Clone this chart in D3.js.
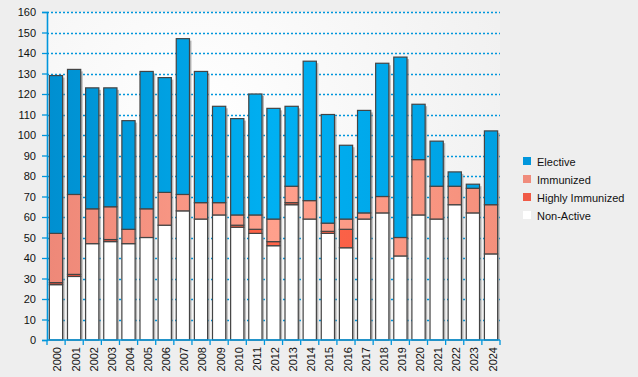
<!DOCTYPE html>
<html>
<head>
<meta charset="utf-8">
<script src="https://cdn.jsdelivr.net/npm/d3@7"></script>
<style>
  body { margin: 0; background: #eeeeee; }
  svg { display: block; font-family: "Liberation Sans", Arial, sans-serif; }
</style>
</head>
<body>
<div id="chart"></div>
<script>
// Data
const years = ["2000","2001","2002","2003","2004","2005","2006","2007","2008","2009","2010","2011","2012",
  "2013","2014","2015","2016","2017","2018","2019","2020","2021","2022","2023","2024"];
const nonActive = [27,31,47,48,47,50,56,63,59,61,55,52,46,66,59,52,45,59,62,41,61,59,66,62,42];
const highlyImmunized = [1,1,0,1,0,0,0,0,0,0,1,2,2,1,0,1,9,0,0,0,0,0,0,0,0];
const immunized = [24,39,17,16,7,14,16,8,8,6,5,7,11,8,9,4,5,3,8,9,27,16,9,12,24];
const elective = [77,61,59,58,53,67,56,76,64,47,47,59,54,39,68,53,36,50,65,88,27,22,7,2,36];
const seriesNames = ["Non-Active", "Highly Immunized", "Immunized", "Elective"];
const yTicks = d3.range(0, 161, 10);

const width = 638, height = 377;
const margin = { top: 12, right: 138, bottom: 37, left: 47 };
const plotW = width - margin.left - margin.right;
const plotH = height - margin.top - margin.bottom;

const svg = d3.select("#chart").append("svg")
  .attr("width", width)
  .attr("height", height);

const defs = svg.append("defs");

// background glow
const bg = defs.append("radialGradient").attr("id", "bgGrad")
  .attr("gradientUnits", "userSpaceOnUse")
  .attr("cx", 200).attr("cy", 120).attr("r", 380);
bg.append("stop").attr("offset", "0%").attr("stop-color", "#ffffff");
bg.append("stop").attr("offset", "100%").attr("stop-color", "#eeeeee");

svg.append("rect").attr("width", width).attr("height", height).attr("fill", "#eeeeee");
svg.append("rect")
  .attr("x", margin.left).attr("y", margin.top)
  .attr("width", plotW).attr("height", plotH)
  .attr("fill", "url(#bgGrad)");

// horizontal colour gradients for the fills
function hGrad(id, stops) {
  const g = defs.append("linearGradient").attr("id", id)
    .attr("gradientUnits", "userSpaceOnUse")
    .attr("x1", margin.left).attr("x2", margin.left + plotW)
    .attr("y1", 0).attr("y2", 0);
  stops.forEach(s => g.append("stop").attr("offset", s[0]).attr("stop-color", s[1]));
}
hGrad("gElective", [["0%", "#008fd0"], ["50%", "#00b0f2"], ["100%", "#00a0e2"]]);
hGrad("gImmunized", [["0%", "#ee8878"], ["50%", "#ffa08c"], ["100%", "#f5907c"]]);
hGrad("gHigh", [["0%", "#e8503c"], ["50%", "#ff6448"], ["100%", "#f05a44"]]);

const fills = {
  "Non-Active": "#ffffff",
  "Highly Immunized": "url(#gHigh)",
  "Immunized": "url(#gImmunized)",
  "Elective": "url(#gElective)"
};
const legendColors = {
  "Elective": "#0096dc",
  "Immunized": "#f08c7c",
  "Highly Immunized": "#f05a46",
  "Non-Active": "#ffffff"
};

const x = d3.scaleBand().domain(years)
  .range([margin.left, margin.left + plotW])
  .paddingInner(0.27).paddingOuter(0.13);
const y = d3.scaleLinear().domain([0, 160])
  .range([margin.top + plotH, margin.top]);

// gridlines
svg.append("g").selectAll("line")
  .data(yTicks.slice(1))
  .enter().append("line")
  .attr("x1", margin.left).attr("x2", margin.left + plotW)
  .attr("y1", d => Math.round(y(d)) + 0.5).attr("y2", d => Math.round(y(d)) + 0.5)
  .attr("stroke", "#0096dc")
  .attr("stroke-width", 1.3)
  .attr("stroke-dasharray", "2,2");

// stacked data
const table = years.map((yr, i) => ({
  year: yr,
  "Non-Active": nonActive[i],
  "Highly Immunized": highlyImmunized[i],
  "Immunized": immunized[i],
  "Elective": elective[i]
}));
const stacked = d3.stack().keys(seriesNames)(table);
const totals = table.map(d => seriesNames.reduce((s, k) => s + d[k], 0));

// shadows
svg.append("g").selectAll("rect")
  .data(table)
  .enter().append("rect")
  .attr("x", d => x(d.year) + 2)
  .attr("y", (d, i) => y(totals[i]) + 2)
  .attr("width", x.bandwidth())
  .attr("height", (d, i) => y(0) - y(totals[i]) - 2)
  .attr("fill", "#8a8a8a")
  .attr("opacity", 0.6);

// segments
stacked.forEach(layer => {
  svg.append("g").selectAll("rect")
    .data(layer.filter(d => d[1] > d[0]))
    .enter().append("rect")
    .attr("x", d => x(d.data.year))
    .attr("y", d => y(d[1]))
    .attr("width", x.bandwidth())
    .attr("height", d => y(d[0]) - y(d[1]))
    .attr("fill", fills[layer.key])
    .attr("stroke", "#444444")
    .attr("stroke-width", 1.2);
});

// y axis
const yAxis = svg.append("g")
  .attr("transform", `translate(${margin.left},0)`)
  .call(d3.axisLeft(y).tickValues(yTicks).tickSize(5).tickPadding(6));
yAxis.select(".domain").attr("stroke", "#0096dc").attr("stroke-width", 1.6);
yAxis.selectAll(".tick line").attr("stroke", "#0096dc").attr("stroke-width", 1.3);
yAxis.selectAll(".tick text").attr("fill", "#111").style("font-size", "11px");

// x axis
const xAxisG = svg.append("g");
xAxisG.append("line")
  .attr("x1", margin.left).attr("x2", margin.left + plotW)
  .attr("y1", y(0)).attr("y2", y(0))
  .attr("stroke", "#0096dc").attr("stroke-width", 1.6);
const boundaries = years.map((yr, i) => margin.left + i * (plotW / years.length)).concat([margin.left + plotW]);
xAxisG.selectAll(".xt")
  .data(boundaries)
  .enter().append("line")
  .attr("class", "xt")
  .attr("x1", d => d).attr("x2", d => d)
  .attr("y1", y(0)).attr("y2", y(0) + 5)
  .attr("stroke", "#0096dc").attr("stroke-width", 1.3);
xAxisG.selectAll("text")
  .data(years)
  .enter().append("text")
  .attr("transform", d => `translate(${x(d) + x.bandwidth() / 2 + 5.5},${y(0) + 7}) rotate(-90)`)
  .attr("text-anchor", "end")
  .style("font-size", "11px")
  .attr("fill", "#111")
  .text(d => d);

// legend
const legendOrder = ["Elective", "Immunized", "Highly Immunized", "Non-Active"];
const legend = svg.append("g").attr("transform", "translate(523,157)");
legendOrder.forEach((name, i) => {
  const g = legend.append("g").attr("transform", `translate(0,${i * 18})`);
  g.append("rect").attr("width", 8).attr("height", 8).attr("fill", legendColors[name]);
  g.append("text").attr("x", 14).attr("y", 8.5)
    .style("font-size", "11px").attr("fill", "#111").text(name);
});
</script>
</body>
</html>
